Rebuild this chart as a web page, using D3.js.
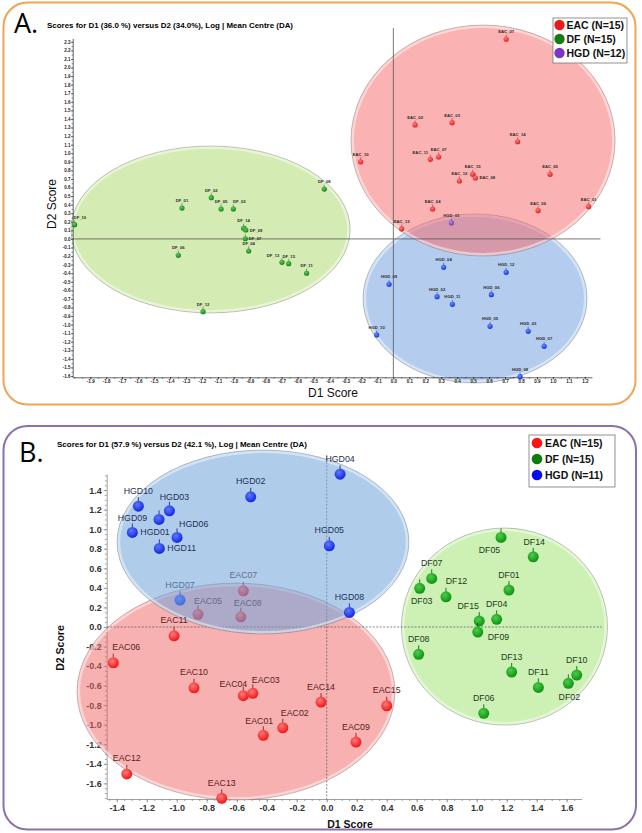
<!DOCTYPE html>
<html>
<head>
<meta charset="utf-8">
<script src="https://cdn.jsdelivr.net/npm/d3@7"></script>
<style>
  body { margin: 0; background: #fff; }
  svg { display: block; font-family: "Liberation Sans", Arial, sans-serif; }
</style>
</head>
<body>
<svg id="chart" width="642" height="833"></svg>
<script>
// ---------- panel A data ----------
const aEacNames = ["EAC_27","EAC_02","EAC_03","EAC_10","EAC_11","EAC_07","EAC_14","EAC_12","EAC_15","EAC_08","EAC_05","EAC_04","EAC_06","EAC_01","EAC_13"];
const aEacD1 = [0.707, 0.136, 0.368, -0.205, 0.232, 0.284, 0.779, 0.414, 0.497, 0.514, 0.982, 0.246, 0.907, 1.224, 0.052];
const aEacD2 = [2.33, 1.33, 1.356, 0.90, 0.929, 0.956, 1.134, 0.676, 0.754, 0.711, 0.754, 0.349, 0.329, 0.376, 0.116];

const aDfNames = ["DF_10","DF_01","DF_02","DF_05","DF_03","DF_14","DF_09","DF_07","DF_04","DF_06","DF_13","DF_15","DF_11","DF_12","DF_08"];
const aDfD1 = [-1.998, -1.325, -1.141, -1.08, -1.003, -0.939, -0.925, -0.928, -0.907, -1.348, -0.698, -0.656, -0.544, -1.193, -0.433];
const aDfD2 = [0.166, 0.36, 0.481, 0.349, 0.349, 0.124, 0.104, 0.002, -0.141, -0.191, -0.273, -0.289, -0.401, -0.849, 0.582];

const aHgdNames = ["HGD_04","HGD_12","HGD_09","HGD_02","HGD_11","HGD_06","HGD_10","HGD_05","HGD_03","HGD_07","HGD_08"];
const aHgdD1 = [0.315, 0.707, -0.027, 0.274, 0.37, 0.614, -0.105, 0.606, 0.845, 0.945, 0.794];
const aHgdD2 = [-0.331, -0.39, -0.53, -0.674, -0.763, -0.651, -1.121, -1.02, -1.078, -1.253, -1.608];

const aPurpleNames = ["HGD_01"];
const aPurpleD1 = [0.364];
const aPurpleD2 = [0.186];

// group ellipses: centre D1, centre D2, half-width, half-height (score units)
const aEllRed = [0.562, 1.148, 0.828, 1.348];
const aEllGreen = [-1.146, 0.110, 0.875, 0.974];
const aEllBlue = [0.512, -0.695, 0.702, 0.986];

const aXTicks = [-1.9,-1.8,-1.7,-1.6,-1.5,-1.4,-1.3,-1.2,-1.1,-1.0,-0.9,-0.8,-0.7,-0.6,-0.5,-0.4,-0.3,-0.2,-0.1,0.0,0.1,0.2,0.3,0.4,0.5,0.6,0.7,0.8,0.9,1.0,1.1,1.2];
const aYTicks = [-1.6,-1.5,-1.4,-1.3,-1.2,-1.1,-1.0,-0.9,-0.8,-0.7,-0.6,-0.5,-0.4,-0.3,-0.2,-0.1,0.0,0.1,0.2,0.3,0.4,0.5,0.6,0.7,0.8,0.9,1.0,1.1,1.2,1.3,1.4,1.5,1.6,1.7,1.8,1.9,2.0,2.1,2.2,2.3];
const aLegend = ["EAC (N=15)", "DF (N=15)", "HGD (N=12)"];

// ---------- panel B data ----------
const bEacNames = ["EAC07","EAC05","EAC08","EAC11","EAC06","EAC10","EAC04","EAC03","EAC14","EAC15","EAC01","EAC02","EAC09","EAC12","EAC13"];
const bEacD1 = [-0.556, -0.858, -0.573, -1.018, -1.423, -0.885, -0.556, -0.493, -0.038, 0.400, -0.423, -0.293, 0.195, -1.333, -0.700];
const bEacD2 = [0.370, 0.129, 0.104, -0.090, -0.366, -0.622, -0.703, -0.679, -0.768, -0.806, -1.108, -1.031, -1.177, -1.504, -1.753];

const bDfNames = ["DF05","DF14","DF07","DF03","DF12","DF01","DF15","DF04","DF09","DF08","DF13","DF11","DF10","DF02","DF06"];
const bDfD1 = [1.162, 1.377, 0.700, 0.620, 0.795, 1.215, 1.017, 1.133, 1.007, 0.613, 1.233, 1.411, 1.667, 1.611, 1.047];
const bDfD2 = [0.916, 0.718, 0.497, 0.395, 0.309, 0.377, 0.060, 0.078, -0.052, -0.280, -0.461, -0.618, -0.492, -0.577, -0.883];

const bHgdNames = ["HGD10","HGD03","HGD09","HGD01","HGD06","HGD11","HGD02","HGD04","HGD05","HGD08","HGD07"];
const bHgdD1 = [-1.256, -1.049, -1.118, -1.296, -0.998, -1.116, -0.507, 0.089, 0.017, 0.151, -0.978];
const bHgdD2 = [1.236, 1.188, 1.100, 0.967, 0.916, 0.804, 1.331, 1.563, 0.830, 0.149, 0.275];

const bEllRed = [-0.605, -0.661, 1.06, 1.11];
const bEllGreen = [1.185, 0.004, 0.687, 1.008];
const bEllBlue = [-0.425, 0.869, 0.973, 0.941];

const bXTicks = [-1.4,-1.2,-1.0,-0.8,-0.6,-0.4,-0.2,0.0,0.2,0.4,0.6,0.8,1.0,1.2,1.4,1.6];
const bYTicks = [-1.6,-1.4,-1.2,-1.0,-0.8,-0.6,-0.4,-0.2,0.0,0.2,0.4,0.6,0.8,1.0,1.2,1.4];
const bLegend = ["EAC (N=15)", "DF (N=15)", "HGD (N=11)"];

// ---------- drawing ----------
const svg = d3.select("#chart");
const defs = svg.append("defs");
const fmt = (d) => d.toFixed(1);

function grad(id, light, base) {
    let g = defs.append("radialGradient").attr("id", id)
        .attr("cx", "40%").attr("cy", "35%").attr("r", "65%");
    g.append("stop").attr("offset", "0%").attr("stop-color", light);
    g.append("stop").attr("offset", "100%").attr("stop-color", base);
    return `url(#${id})`;
}

function ellipse(g, x, y, e, fill, alpha) {
    let cx = x(e[0]), cy = y(e[1]);
    let rx = Math.abs(x(e[0] + e[2]) - cx), ry = Math.abs(y(e[1] + e[3]) - cy);
    g.append("ellipse").attr("cx", cx).attr("cy", cy).attr("rx", rx).attr("ry", ry)
        .attr("fill", fill).attr("fill-opacity", alpha)
        .attr("stroke", "#808080").attr("stroke-opacity", 0.45).attr("stroke-width", 1);
    g.append("ellipse").attr("cx", cx).attr("cy", cy).attr("rx", rx - 1.8).attr("ry", ry - 1.8)
        .attr("fill", "none").attr("stroke", "#fff").attr("stroke-opacity", 0.45).attr("stroke-width", 2.5);
}

function inside(e, px, py) {
    let u = (px - e[0]) / e[2], v = (py - e[1]) / e[3];
    return u * u + v * v < 1;
}

function drawMarks(g, x, y, idx, names, d1, d2, st) {
    let place = (i) => st.place[names[i]] || [0, st.dy, "middle"];
    let sel = g.selectAll(null).data(idx).enter().append("g");
    sel.append("line")
        .attr("x1", (i) => x(d1[i])).attr("x2", (i) => x(d1[i]))
        .attr("y1", (i) => y(d2[i]) - st.r + 0.5).attr("y2", (i) => y(d2[i]) - st.r - st.stem)
        .attr("stroke", st.stemColor).attr("stroke-width", st.stemWidth);
    sel.append("circle")
        .attr("cx", (i) => x(d1[i])).attr("cy", (i) => y(d2[i])).attr("r", st.r)
        .attr("fill", st.fill);
    sel.append("text")
        .attr("x", (i) => x(d1[i]) + place(i)[0])
        .attr("y", (i) => y(d2[i]) + place(i)[1])
        .attr("text-anchor", (i) => place(i)[2])
        .attr("font-size", st.font).attr("font-weight", st.weight)
        .attr("fill", st.labelColor)
        .text((i) => names[i]);
}

const all = (arr) => arr.map((d, i) => i);

// frames
svg.append("rect").attr("x", 3.5).attr("y", 2.5).attr("width", 632).attr("height", 402).attr("rx", 24)
    .attr("fill", "none").attr("stroke", "#f2a451").attr("stroke-width", 2);
svg.append("rect").attr("x", 3.5).attr("y", 426).attr("width", 632.5).attr("height", 403.5).attr("rx", 24)
    .attr("fill", "none").attr("stroke", "#8d70ab").attr("stroke-width", 2);

// ================= PANEL A =================
const xA = d3.scaleLinear().domain([-2.01, 1.245]).range([72.7, 592]);
const yA = d3.scaleLinear().domain([-1.615, 2.34]).range([377.3, 38.4]);
const gA = svg.append("g");

gA.append("text").attr("x", 14).attr("y", 33).attr("font-family", "'Open Sans', sans-serif")
    .attr("font-size", 27).text("A.");
gA.append("text").attr("x", 47).attr("y", 27.5).attr("font-size", 7.2).attr("font-weight", "bold")
    .attr("textLength", 246).attr("lengthAdjust", "spacingAndGlyphs")
    .text("Scores for D1 (36.0 %) versus D2 (34.0%), Log | Mean Centre (DA)");

ellipse(gA, xA, yA, aEllGreen, "#abd769", 0.5);
ellipse(gA, xA, yA, aEllBlue, "#699bdd", 0.5);
ellipse(gA, xA, yA, aEllRed, "#f56565", 0.5);

// zero lines
gA.append("line").attr("x1", xA.range()[0]).attr("x2", xA(1.298)).attr("y1", yA(0)).attr("y2", yA(0))
    .attr("stroke", "#555").attr("stroke-width", 0.8);
gA.append("line").attr("x1", xA(0)).attr("x2", xA(0)).attr("y1", yA(2.461)).attr("y2", yA.range()[0])
    .attr("stroke", "#555").attr("stroke-width", 0.8);

// axes
let axA = gA.append("g").attr("transform", `translate(0,${yA.range()[0]})`)
    .call(d3.axisBottom(xA).tickValues(aXTicks).tickFormat(fmt).tickSize(2).tickPadding(1).tickSizeOuter(0));
gA.append("g").attr("transform", `translate(0,${yA.range()[0]})`)
    .call(d3.axisBottom(xA).tickValues(d3.range(-2.0, 1.25, 0.05)).tickFormat("").tickSize(1.2).tickSizeOuter(0))
    .select(".domain").remove();
let ayA = gA.append("g").attr("transform", `translate(${xA.range()[0]},0)`)
    .call(d3.axisLeft(yA).tickValues(aYTicks).tickFormat(fmt).tickSize(1.5).tickPadding(0.6).tickSizeOuter(0));
gA.append("g").attr("transform", `translate(${xA.range()[0]},0)`)
    .call(d3.axisLeft(yA).tickValues(d3.range(-1.6, 2.34, 0.05)).tickFormat("").tickSize(1).tickSizeOuter(0))
    .select(".domain").remove();
gA.selectAll(".tick text").attr("font-size", 4.5).attr("font-weight", "bold").attr("fill", "#222")
    .attr("font-family", "'Liberation Sans', Arial, sans-serif");
gA.selectAll(".domain, .tick line").attr("stroke", "#222").attr("stroke-width", 0.7);

gA.append("text").attr("x", 333).attr("y", 397).attr("text-anchor", "middle")
    .attr("font-size", 12).attr("fill", "#111").text("D1 Score");
gA.append("text").attr("transform", "translate(55.5,204) rotate(-90)").attr("text-anchor", "middle")
    .attr("font-size", 12).attr("fill", "#111").text("D2 Score");

const aStyle = {
    r: 2.6, stem: 1.8, stemWidth: 0.5, font: 4.2, weight: "bold", dy: -6, labelColor: "#2a2a2a",
    place: {
        DF_10: [-1, -6, "start"], DF_03: [6, -6, "middle"], DF_09: [4, 1.5, "start"],
        DF_07: [3.5, 1.5, "start"], DF_13: [-9, -5, "middle"], EAC_11: [-10, -5, "middle"],
        EAC_08: [4, 1.5, "start"]
    }
};
drawMarks(gA, xA, yA, all(aDfNames), aDfNames, aDfD1, aDfD2,
    Object.assign({}, aStyle, { fill: grad("ga-g", "#5fcb5f", "#138313"), stemColor: "#0c4d0c" }));
drawMarks(gA, xA, yA, all(aEacNames), aEacNames, aEacD1, aEacD2,
    Object.assign({}, aStyle, { fill: grad("ga-r", "#ff7a7a", "#e51c1c"), stemColor: "#7a0c0c" }));
drawMarks(gA, xA, yA, all(aHgdNames), aHgdNames, aHgdD1, aHgdD2,
    Object.assign({}, aStyle, { fill: grad("ga-b", "#6a8cff", "#1238d8"), stemColor: "#0a1f77" }));
drawMarks(gA, xA, yA, all(aPurpleNames), aPurpleNames, aPurpleD1, aPurpleD2,
    Object.assign({}, aStyle, { fill: grad("ga-p", "#b088ee", "#7838bf"), stemColor: "#3d1a66" }));

// legend A
const legColorsA = ["#ec1a1a", "#137d13", "#7a36c4"];
let legA = gA.append("g");
legA.append("rect").attr("x", 553).attr("y", 18).attr("width", 74).attr("height", 45)
    .attr("fill", "#fff").attr("stroke", "#777").attr("stroke-width", 0.8);
aLegend.forEach((t, i) => {
    legA.append("circle").attr("cx", 559.5).attr("cy", 25 + i * 14).attr("r", 5.2).attr("fill", legColorsA[i]);
    legA.append("text").attr("x", 566.5).attr("y", 28.8 + i * 14).attr("font-size", 10.5)
        .attr("font-weight", "bold").attr("fill", "#111").text(t);
});

// ================= PANEL B =================
const xB = d3.scaleLinear().domain([-1.467, 1.70]).range([106.7, 581.7]);
const yB = d3.scaleLinear().domain([-1.76, 1.565]).range([799, 474]);
const gB = svg.append("g");

gB.append("text").attr("x", 19).attr("y", 462).attr("font-family", "'Open Sans', sans-serif")
    .attr("font-size", 27).text("B.");
gB.append("text").attr("x", 57).attr("y", 446.5).attr("font-size", 7.8).attr("font-weight", "bold")
    .attr("textLength", 250).attr("lengthAdjust", "spacingAndGlyphs")
    .text("Scores for D1 (57.9 %) versus D2 (42.1 %), Log | Mean Centre (DA)");

// axes first (under everything)
gB.append("g").attr("class", "axb").attr("transform", `translate(0,${yB.range()[0]})`)
    .call(d3.axisBottom(xB).tickValues(bXTicks).tickFormat(fmt).tickSize(3.5).tickPadding(2).tickSizeOuter(0));
gB.append("g").attr("class", "axb").attr("transform", `translate(0,${yB.range()[0]})`)
    .call(d3.axisBottom(xB).tickValues(d3.range(-1.45, 1.7, 0.05)).tickFormat("").tickSize(2).tickSizeOuter(0))
    .select(".domain").remove();
gB.append("g").attr("class", "axb").attr("transform", `translate(${xB.range()[0]},0)`)
    .call(d3.axisLeft(yB).tickValues(bYTicks).tickFormat(fmt).tickSize(3).tickPadding(2).tickSizeOuter(0));
gB.append("g").attr("class", "axb").attr("transform", `translate(${xB.range()[0]},0)`)
    .call(d3.axisLeft(yB).tickValues(d3.range(-1.75, 1.56, 0.05)).tickFormat("").tickSize(1.8).tickSizeOuter(0))
    .select(".domain").remove();
gB.selectAll(".axb .tick text").attr("font-size", 9).attr("font-weight", "bold").attr("fill", "#333")
    .attr("font-family", "'Liberation Sans', Arial, sans-serif");
gB.selectAll(".axb .domain, .axb .tick line").attr("stroke", "#888").attr("stroke-width", 0.8);

gB.append("text").attr("x", 350).attr("y", 828).attr("text-anchor", "middle")
    .attr("font-size", 10.5).attr("font-weight", "bold").attr("fill", "#111").text("D1 Score");
gB.append("text").attr("transform", "translate(63.5,648) rotate(-90)").attr("text-anchor", "middle")
    .attr("font-size", 10.5).attr("font-weight", "bold").attr("fill", "#111").text("D2 Score");

ellipse(gB, xB, yB, bEllGreen, "#9be169", 0.5);
ellipse(gB, xB, yB, bEllRed, "#f16363", 0.5);

// dashed zero lines
gB.append("line").attr("x1", xB.range()[0]).attr("x2", xB(1.835)).attr("y1", yB(0)).attr("y2", yB(0))
    .attr("stroke", "#555").attr("stroke-width", 0.7).attr("stroke-dasharray", "2,1.5");
gB.append("line").attr("x1", xB(0)).attr("x2", xB(0)).attr("y1", yB(1.76)).attr("y2", yB.range()[0])
    .attr("stroke", "#555").attr("stroke-width", 0.7).attr("stroke-dasharray", "2,1.5");

const bStyle = { r: 5.5, stem: 3.5, stemWidth: 0.8, font: 8.8, weight: "normal", dy: -12.5 };
const bPlace = {
    HGD03: [5, -10.5, "middle"], HGD09: [-12, 2, "end"], HGD01: [8, 2.5, "start"],
    HGD06: [2, -10, "start"], HGD11: [8, 3, "start"],
    EAC05: [10, -10.4, "middle"], EAC08: [7, -11.2, "middle"], EAC06: [13, -12.8, "middle"],
    EAC04: [-10, -8.5, "middle"], EAC03: [13, -10.8, "middle"], EAC01: [-4, -11.4, "middle"],
    EAC02: [12, -11.8, "middle"],
    DF05: [-11.5, 15.2, "middle"], DF03: [2, 15.6, "middle"], DF12: [10.5, -12.8, "middle"],
    DF15: [-11, -11.8, "middle"], DF09: [10, 7.5, "start"], DF02: [1, 16.6, "middle"],
    DF14: [1, -12, "middle"]
};
const stB = {
    eac: Object.assign({}, bStyle, { place: bPlace, fill: grad("gb-r", "#ff7a7a", "#f01616"), stemColor: "#7a0c0c", labelColor: "#5a1c1c" }),
    df: Object.assign({}, bStyle, { place: bPlace, fill: grad("gb-g", "#4ccc4c", "#0f920f"), stemColor: "#0b4a0b", labelColor: "#1d3d1d" }),
    hgd: Object.assign({}, bStyle, { place: bPlace, fill: grad("gb-b", "#6078ff", "#1028e0"), stemColor: "#0a1a70", labelColor: "#1f2f55" })
};

// points lying in the red/blue overlap sit under the blue ellipse
const inOverlap = (d1, d2) => (i) => inside(bEllRed, d1[i], d2[i]) && inside(bEllBlue, d1[i], d2[i]);
const eacUnder = all(bEacNames).filter(inOverlap(bEacD1, bEacD2));
const hgdUnder = all(bHgdNames).filter(inOverlap(bHgdD1, bHgdD2));
drawMarks(gB, xB, yB, eacUnder, bEacNames, bEacD1, bEacD2, stB.eac);
drawMarks(gB, xB, yB, hgdUnder, bHgdNames, bHgdD1, bHgdD2, stB.hgd);

ellipse(gB, xB, yB, bEllBlue, "#6da4db", 0.55);

drawMarks(gB, xB, yB, all(bEacNames).filter((i) => !eacUnder.includes(i)), bEacNames, bEacD1, bEacD2, stB.eac);
drawMarks(gB, xB, yB, all(bHgdNames).filter((i) => !hgdUnder.includes(i)), bHgdNames, bHgdD1, bHgdD2, stB.hgd);
drawMarks(gB, xB, yB, all(bDfNames), bDfNames, bDfD1, bDfD2, stB.df);

// legend B
const legColorsB = ["#ff1414", "#0c7c0c", "#0a0af0"];
let legB = gB.append("g");
legB.append("rect").attr("x", 529).attr("y", 435).attr("width", 86).attr("height", 52)
    .attr("fill", "#fff").attr("stroke", "#777").attr("stroke-width", 0.8);
bLegend.forEach((t, i) => {
    legB.append("circle").attr("cx", 537).attr("cy", 443 + i * 16).attr("r", 5.3).attr("fill", legColorsB[i]);
    legB.append("text").attr("x", 545).attr("y", 446.8 + i * 16).attr("font-size", 10.5)
        .attr("font-weight", "bold").attr("fill", "#111").text(t);
});
</script>
</body>
</html>
